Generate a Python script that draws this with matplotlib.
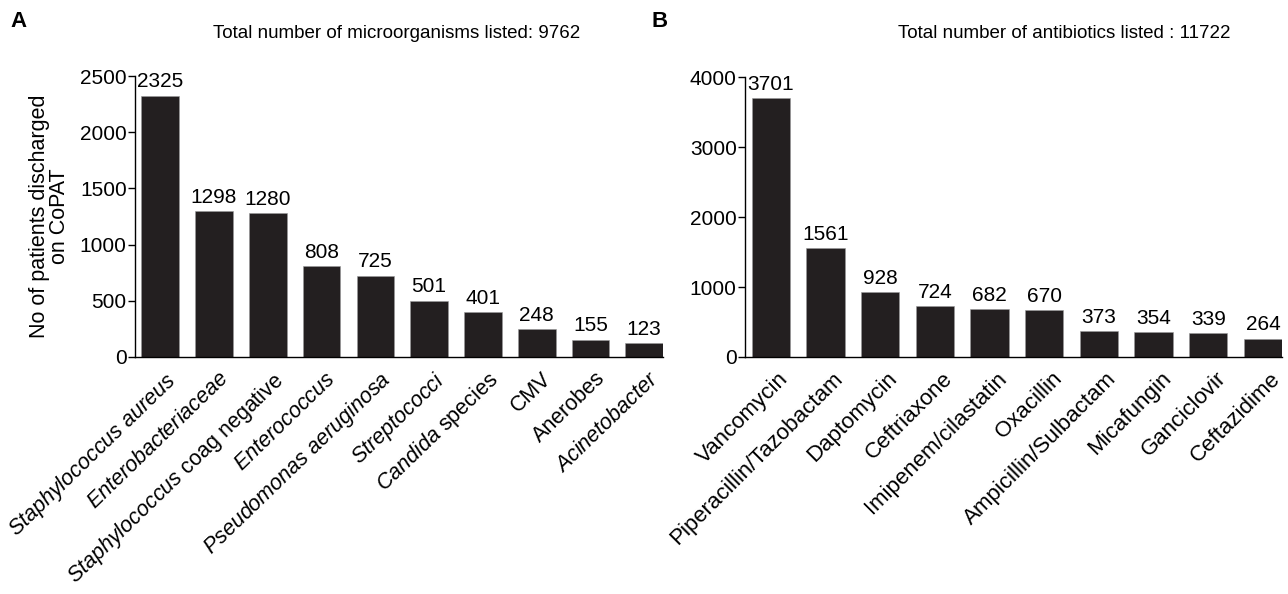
import numpy as np
import matplotlib
matplotlib.use("Agg")
import matplotlib.pyplot as plt
from matplotlib.transforms import ScaledTranslation

plt.rcParams["font.family"] = ["Liberation Sans", "DejaVu Sans"]
plt.rcParams["mathtext.fontset"] = "custom"
plt.rcParams["mathtext.rm"] = "Liberation Sans"
plt.rcParams["mathtext.it"] = "Liberation Sans:italic"

# Panel A: Mikroorganismen
microbes = [
    r"$\mathit{Staphylococcus\ aureus}$",
    r"$\mathit{Enterobacteriaceae}$",
    r"$\mathit{Staphylococcus}$ coag negative",
    r"$\mathit{Enterococcus}$",
    r"$\mathit{Pseudomonas\ aeruginosa}$",
    r"$\mathit{Streptococci}$",
    r"$\mathit{Candida}$ species",
    "CMV",
    "Anerobes",
    r"$\mathit{Acinetobacter}$",
]
microbe_counts = [2325, 1298, 1280, 808, 725, 501, 401, 248, 155, 123]

# Panel B: Antibiotika
antibiotics = [
    "Vancomycin",
    "Piperacillin/Tazobactam",
    "Daptomycin",
    "Ceftriaxone",
    "Imipenem/cilastatin",
    "Oxacillin",
    "Ampicillin/Sulbactam",
    "Micafungin",
    "Ganciclovir",
    "Ceftazidime",
]
antibiotic_counts = [3701, 1561, 928, 724, 682, 670, 373, 354, 339, 264]

bar_color = "#231f20"
fs = 15


def draw_panel(fig, ax, labels, counts, ymax, yticks, rot, xfs, dx):
    x = np.arange(len(counts))
    ax.bar(x, counts, width=0.7, color=bar_color, edgecolor="#9a9a9a", linewidth=0.4)
    for xi, c in zip(x, counts):
        ax.text(xi, c + ymax * 0.015, str(c), ha="center", va="bottom", fontsize=fs,
                clip_on=False)
    ax.set_xlim(-0.47, len(counts) - 0.65)
    ax.set_ylim(0, ymax)
    ax.set_yticks(yticks)
    ax.tick_params(axis="y", labelsize=fs, length=5, width=1, pad=1)
    ax.set_xticks(x)
    ax.set_xticklabels(labels, rotation=rot, ha="right", rotation_mode="anchor",
                       fontsize=xfs)
    ax.tick_params(axis="x", length=0, pad=8)
    # Beschriftungen etwas nach rechts schieben
    shift = ScaledTranslation(dx / 72, 0, fig.dpi_scale_trans)
    for lab in ax.get_xticklabels():
        lab.set_transform(lab.get_transform() + shift)
    ax.spines["top"].set_visible(False)
    ax.spines["right"].set_visible(False)
    ax.spines["left"].set_linewidth(1)
    ax.spines["bottom"].set_linewidth(1)
    return ax


fig = plt.figure(figsize=(12.88, 5.94), dpi=100)
ax_a = fig.add_axes([0.1048, 0.399, 0.41, 0.473])
ax_b = fig.add_axes([0.5784, 0.399, 0.417, 0.471])

draw_panel(fig, ax_a, microbes, microbe_counts, 2500, [0, 500, 1000, 1500, 2000, 2500],
           44, 15.5, 3)
ax_a.set_ylabel("No of patients discharged\non CoPAT", fontsize=15.5, labelpad=7,
                linespacing=0.95)

draw_panel(fig, ax_b, antibiotics, antibiotic_counts, 4000, [0, 1000, 2000, 3000, 4000],
           45, 16, 5)

fig.text(397 / 1288, 1 - 33 / 594, "Total number of microorganisms listed: 9762",
         ha="center", va="center", fontsize=13.5)
fig.text(1064 / 1288, 1 - 33 / 594, "Total number of antibiotics listed : 11722",
         ha="center", va="center", fontsize=13.5)

fig.text(0.008, 0.963, "A", fontsize=16, fontweight="bold", va="center")
fig.text(0.506, 0.963, "B", fontsize=16, fontweight="bold", va="center")

fig.savefig("out.png", dpi=100)
